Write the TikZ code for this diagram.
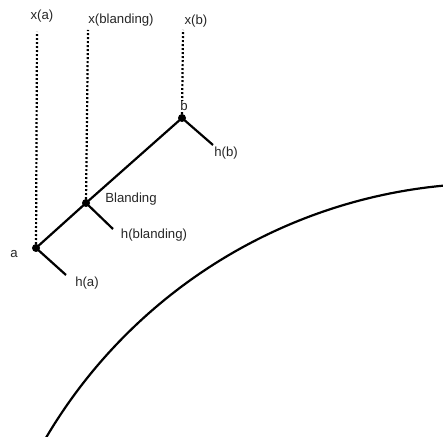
\documentclass[tikz,border=0pt]{standalone}
\usepackage{fontspec}
\setmainfont{Liberation Sans}
\begin{document}
\begin{tikzpicture}[x=1pt,y=1pt,
  lbl/.style={font=\fontsize{13.2}{15}\selectfont, inner sep=0pt, text=black!85},
  pt/.style={circle, fill=black, inner sep=0pt, minimum size=8pt},
  solidline/.style={line width=2.2pt},
  dotline/.style={line width=2.2pt, dash pattern=on 1.8pt off 2.2pt}]
\useasboundingbox (0,0) rectangle (443,436);
% points (pixel coords converted: y -> 436-y)
\node[pt] (a) at (36,188) {};
\node[pt] (bl) at (86,233) {};
\node[pt] (b) at (182,318) {};
\coordinate (xa) at (37,404);
\coordinate (xbl) at (88,406);
\coordinate (xb) at (183,406);
\coordinate (ha) at (66,161);
\coordinate (hbl) at (113,207);
\coordinate (hb) at (213,291);
% main line
\draw[solidline] (a.center) -- (bl.center) -- (b.center);
% h lines
\draw[solidline] (a.center) -- (ha);
\draw[solidline] (bl.center) -- (hbl);
\draw[solidline] (b.center) -- (hb);
% dotted
\draw[dotline] (a.center) -- (xa);
\draw[dotline] (bl.center) -- (xbl);
\draw[dotline] (b.center) -- (xb);
% labels
\node[lbl] (lxa) at (42,420) {x(a)};
\node[lbl] (lxbl) at (121,416) {x(blanding)};
\node[lbl] (lxb) at (196,415) {x(b)};
\node[lbl, fill=white, inner sep=0.5pt] (lb) at (184,330) {b};
\node[lbl] (lhb) at (226,283) {h(b)};
\node[lbl] (lbln) at (131,237) {Blanding};
\node[lbl] (lhbl) at (154,201) {h(blanding)};
\node[lbl] (la) at (14,182) {a};
\node[lbl] (lha) at (87,153) {h(a)};
% arc
\begin{scope}
\clip (0,0) rectangle (443,436);
\draw[solidline] (491.6,-264.9) ++(151:517.5) arc[start angle=151, end angle=93, radius=517.5];
\end{scope}
\end{tikzpicture}
\end{document}
